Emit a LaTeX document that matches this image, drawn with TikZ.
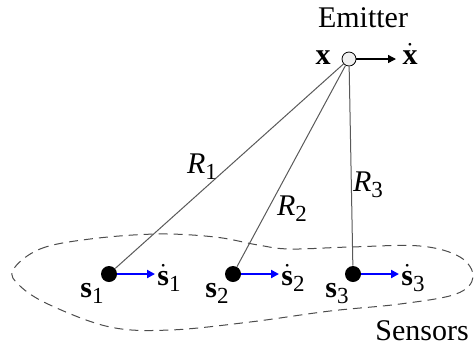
\documentclass[tikz,border=0pt]{standalone}
\usepackage{fontspec}
\setmainfont{Liberation Serif}
\usetikzlibrary{arrows.meta}
\newcommand\lowidx[1]{\raisebox{-0.45ex}{\fontsize{11.5}{12}\selectfont #1}}
\newcommand\dotted[1]{$\dot{\hbox{#1}}$}
\tikzset{
  lbl/.style={inner sep=0pt,anchor=base},
  sensor/.style={circle,fill=black,inner sep=0pt,minimum size=8pt},
  rangeline/.style={gray!70!black,line width=0.5pt},
  vel/.style={blue,line width=1pt,-{Triangle[length=4pt,width=4pt]}}
}
\begin{document}
\begin{tikzpicture}[x=0.5pt,y=-0.5pt,font=\fontsize{15}{17}\selectfont]
\useasboundingbox (0,0) rectangle (474,345);
% emitter with its velocity
\node[circle,draw,fill=gray!12,inner sep=0pt,minimum size=7pt,line width=0.4pt] (em) at (349,59) {};
\node[lbl] (emlab) at (363,27) {Emitter};
\node[lbl] (x) at (323,64) {\textbf{x}};
\node[lbl] (xdot) at (410,64) {\dotted{\textbf{x}}};
\coordinate (xtip) at (396,59);
\draw[line width=0.7pt,-{Triangle[length=4pt,width=4pt]}] (em) -- (xtip);
% sensors with velocities
\foreach \i/\px/\ax/\dx in {1/109/92/169,2/233/217/293,3/353/337/413}{
  \node[sensor] (s\i) at (\px,274) {};
  \node[lbl] (sl\i) at (\ax,297) {\textbf{s}\lowidx{\i}};
  \node[lbl] (sd\i) at (\dx,285) {\dotted{\textbf{s}}\lowidx{\i}};
  \coordinate (st\i) at (\px+46,274);
  \draw[vel] (s\i) -- (st\i);
  \draw[rangeline] (em) -- (s\i);
}
% ranges
\node[lbl] (r1) at (202,173) {\textit{R}\lowidx{1}};
\node[lbl] (r2) at (292,215) {\textit{R}\lowidx{2}};
\node[lbl] (r3) at (368,191) {\textit{R}\lowidx{3}};
% sensor region
\draw[dashed,dash pattern=on 4.5pt off 3pt,line width=0.5pt,gray!60!black]
  plot[smooth cycle,tension=0.6] coordinates {(13,270) (40,249) (90,239) (157,234) (215,237) (258,245) (290,249) (350,247) (420,246) (460,257) (473,277) (456,294) (400,304) (330,311) (250,322) (170,330) (110,327) (50,305) (20,286)};
\node[lbl] (sens) at (422,340) {Sensors};
\end{tikzpicture}
\end{document}
